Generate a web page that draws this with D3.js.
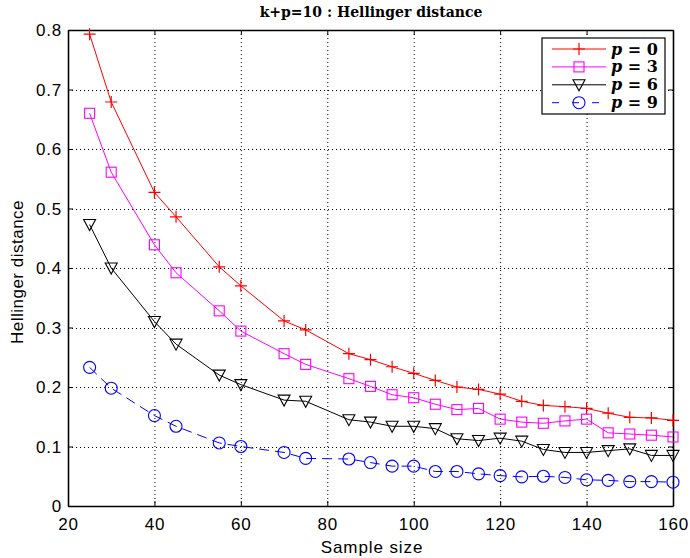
<!DOCTYPE html>
<html><head><meta charset="utf-8">
<script src="https://cdn.jsdelivr.net/npm/d3@7"></script>
<style>body{margin:0;background:#fff;}</style>
</head><body>
<svg id="c" width="690" height="558"></svg>
<script>
const sampleSizes = [25,30,40,45,55,60,70,75,85,90,95,100,105,110,115,120,125,130,135,140,145,150,155,160];
const p0 = [0.793,0.679,0.527,0.486,0.402,0.370,0.311,0.296,0.256,0.246,0.234,0.223,0.211,0.200,0.196,0.188,0.176,0.169,0.167,0.164,0.156,0.149,0.148,0.144];
const p3 = [0.660,0.561,0.439,0.392,0.328,0.294,0.256,0.238,0.214,0.201,0.187,0.182,0.171,0.162,0.164,0.146,0.141,0.139,0.143,0.146,0.123,0.121,0.119,0.116];
const p6 = [0.473,0.400,0.310,0.272,0.220,0.204,0.178,0.176,0.145,0.141,0.134,0.134,0.130,0.113,0.110,0.114,0.109,0.095,0.090,0.090,0.093,0.096,0.085,0.085];
const p9 = [0.233,0.198,0.152,0.134,0.106,0.100,0.090,0.080,0.079,0.073,0.067,0.067,0.058,0.058,0.054,0.051,0.049,0.050,0.048,0.044,0.043,0.041,0.041,0.040];
const xTicks = [20,40,60,80,100,120,140,160];
const yTicks = [0,0.1,0.2,0.3,0.4,0.5,0.6,0.7,0.8];
const seriesNames = ["0","3","6","9"];

const series = [
  {name:seriesNames[0], vals:p0, color:"#ff0000", marker:"plus", dash:null},
  {name:seriesNames[1], vals:p3, color:"#ff00ff", marker:"square", dash:null},
  {name:seriesNames[2], vals:p6, color:"#000000", marker:"tri", dash:null},
  {name:seriesNames[3], vals:p9, color:"#0000ff", marker:"circle", dash:"10,6"}
];

const L=68, R=673, T=30, B=506;
const svg = d3.select("#c");
const x = d3.scaleLinear().domain([20,160]).range([L,R]);
const y = d3.scaleLinear().domain([0,0.8]).range([B,T]);
const sans = "Liberation Sans, Arial, sans-serif";

// grid
const g = svg.append("g");
g.selectAll(".gx").data(xTicks.slice(1,-1)).enter().append("line")
  .attr("x1",d=>x(d)+0.5).attr("x2",d=>x(d)+0.5).attr("y1",T).attr("y2",B)
  .attr("stroke","#000").attr("stroke-width",1).attr("stroke-dasharray","1,3");
g.selectAll(".gy").data(yTicks.slice(1,-1)).enter().append("line")
  .attr("y1",d=>Math.round(y(d))+0.5).attr("y2",d=>Math.round(y(d))+0.5).attr("x1",L).attr("x2",R)
  .attr("stroke","#000").attr("stroke-width",1).attr("stroke-dasharray","1,3");

// axes with inward ticks
const fmtY = d => d===0 ? "0" : d3.format(".1f")(d);
const axB = svg.append("g").attr("transform",`translate(0,${B})`)
  .call(d3.axisBottom(x).tickValues(xTicks).tickSizeInner(-5).tickSizeOuter(0).tickPadding(12));
const axT = svg.append("g").attr("transform",`translate(0,${T})`)
  .call(d3.axisTop(x).tickValues(xTicks).tickSizeInner(-5).tickSizeOuter(0).tickFormat(""));
const axL = svg.append("g").attr("transform",`translate(${L},0)`)
  .call(d3.axisLeft(y).tickValues(yTicks).tickFormat(fmtY).tickSizeInner(-5).tickSizeOuter(0).tickPadding(6));
const axR = svg.append("g").attr("transform",`translate(${R},0)`)
  .call(d3.axisRight(y).tickValues(yTicks).tickSizeInner(-5).tickSizeOuter(0).tickFormat(""));
[axB,axT,axL,axR].forEach(a=>{
  a.select(".domain").attr("stroke","#000").attr("stroke-width",1.6);
  a.selectAll("text").attr("font-family",sans).attr("font-size",17).attr("letter-spacing","0.8px").attr("fill","#000");
});
axL.selectAll("text").attr("dy","0.35em");

// lines and markers
const line = d3.line().x((d,i)=>x(sampleSizes[i])).y(d=>y(d));
function drawMarker(sel, type, color){
  if(type==="plus"){
    sel.append("path").attr("d","M-6,0H6M0,-6V6").attr("stroke",color).attr("stroke-width",1.2).attr("fill","none");
  } else if(type==="square"){
    sel.append("rect").attr("x",-5).attr("y",-5).attr("width",10).attr("height",10).attr("stroke",color).attr("stroke-width",1.1).attr("fill","none");
  } else if(type==="tri"){
    sel.append("path").attr("d","M-6,-5L6,-5L0,6Z").attr("stroke",color).attr("stroke-width",1.1).attr("fill","none");
  } else {
    sel.append("circle").attr("r",6).attr("stroke",color).attr("stroke-width",1.1).attr("fill","none");
  }
}
series.forEach(s=>{
  svg.append("path").datum(s.vals).attr("d",line).attr("fill","none")
    .attr("stroke",s.color).attr("stroke-width",1).attr("stroke-dasharray",s.dash);
  svg.selectAll(null).data(s.vals).enter().append("g")
    .attr("transform",(d,i)=>`translate(${x(sampleSizes[i])},${y(d)})`)
    .each(function(){ drawMarker(d3.select(this), s.marker, s.color); });
});

// title and labels
svg.append("text").attr("x",371).attr("y",17).attr("text-anchor","middle")
  .attr("font-family","DejaVu Serif, Liberation Serif, serif").attr("font-weight","bold").attr("font-size",14)
  .text("k+p=10 : Hellinger distance");
svg.append("text").attr("x",372).attr("y",553).attr("text-anchor","middle")
  .attr("font-family",sans).attr("font-size",17).attr("letter-spacing","0.9px").text("Sample size");
svg.append("text").attr("transform","translate(23,272) rotate(-90)").attr("text-anchor","middle")
  .attr("font-family",sans).attr("font-size",17).attr("letter-spacing","0.5px").text("Hellinger distance");

// legend
const lg = svg.append("g");
lg.append("rect").attr("x",542).attr("y",38).attr("width",123).attr("height",76)
  .attr("fill","#fff").attr("stroke","#000").attr("stroke-width",1.2);
series.forEach((s,i)=>{
  const yy = 49 + i*17.9;
  lg.append("line").attr("x1",552).attr("x2",606).attr("y1",yy).attr("y2",yy)
    .attr("stroke",s.color).attr("stroke-width",1).attr("stroke-dasharray",s.dash?"7,13":null);
  drawMarker(lg.append("g").attr("transform",`translate(579,${yy})`), s.marker, s.color);
  const t = lg.append("text").attr("x",611).attr("y",yy+5.5)
    .attr("font-family","DejaVu Serif, Liberation Serif, serif").attr("font-weight","bold").attr("font-size",16);
  t.append("tspan").attr("font-style","italic").text("p");
  t.append("tspan").text(" = " + s.name);
});
</script>
</body></html>
